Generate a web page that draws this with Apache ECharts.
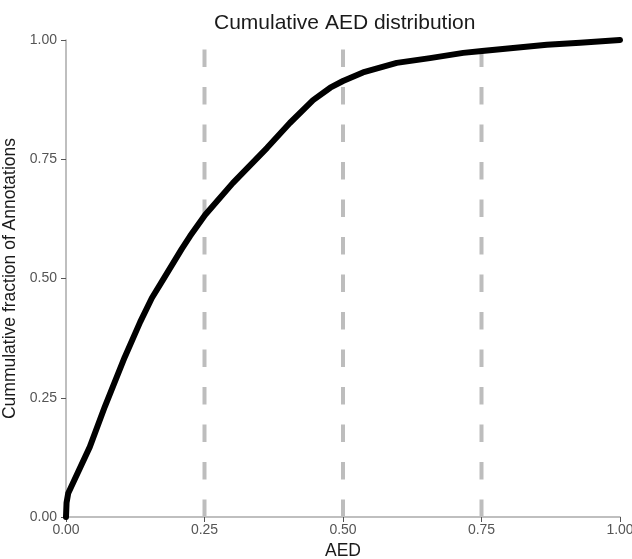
<!DOCTYPE html>
<html>
<head>
<meta charset="utf-8">
<script src="https://cdn.jsdelivr.net/npm/echarts@6/dist/echarts.min.js"></script>
<style>
html,body{margin:0;padding:0;background:#fff;}
#chart{width:632px;height:559px;}
</style>
</head>
<body>
<div id="chart"></div>
<script>
// AED values (x) and cumulative fraction (y)
var aedValues = [0, 0.001, 0.004, 0.043, 0.070, 0.106, 0.134, 0.155, 0.175, 0.209, 0.224, 0.251, 0.301, 0.363, 0.404, 0.446, 0.477, 0.500, 0.536, 0.597, 0.657, 0.717, 0.751, 0.807, 0.868, 0.928, 1.0];
var cumFraction = [0, 0.03, 0.05, 0.147, 0.231, 0.335, 0.409, 0.459, 0.497, 0.562, 0.589, 0.633, 0.700, 0.774, 0.826, 0.874, 0.900, 0.914, 0.932, 0.952, 0.962, 0.973, 0.977, 0.983, 0.990, 0.994, 1.0];
var refLines = [0.25, 0.5, 0.75];
var tickValues = [0, 0.25, 0.5, 0.75, 1.0];

var curve = aedValues.map(function (x, i) { return [x, cumFraction[i]]; });

var series = [];
refLines.forEach(function (v) {
  series.push({
    type: 'line',
    data: [[v, 0], [v, 1]],
    symbol: 'none',
    silent: true,
    z: 1,
    lineStyle: { color: '#bdbdbd', width: 4, type: [17.5, 20] }
  });
});
series.push({
  type: 'line',
  data: curve,
  symbol: 'none',
  z: 3,
  lineStyle: { color: '#000', width: 6, cap: 'round', join: 'round' }
});

var FONT = 'Liberation Sans, Arial, sans-serif';
var axisCommon = {
  min: tickValues[0], max: tickValues[tickValues.length - 1], interval: 0.25,
  axisLine: { show: true, lineStyle: { color: '#aaaaaa', width: 1.5 } },
  axisTick: { show: true, length: 5, lineStyle: { color: '#555', width: 1 } },
  axisLabel: {
    color: '#555', fontSize: 14, fontFamily: FONT,
    formatter: function (v) { return v.toFixed(2); }
  },
  splitLine: { show: false }
};

var chart = echarts.init(document.getElementById('chart'), null, { renderer: 'canvas' });
chart.setOption({
  animation: false,
  backgroundColor: '#fff',
  title: {
    text: 'Cumulative AED distribution',
    left: 209, top: 8,
    textStyle: { color: '#1a1a1a', fontSize: 21, fontWeight: 'normal', fontFamily: FONT }
  },
  grid: { left: 66, top: 40, right: 12, bottom: 42, containLabel: false, outerBoundsMode: 'none' },
  xAxis: Object.assign({}, axisCommon, {
    type: 'value',
    name: 'AED', nameLocation: 'middle', nameGap: 21,
    nameTextStyle: { color: '#1a1a1a', fontSize: 17.5, fontFamily: FONT },
    axisLabel: Object.assign({}, axisCommon.axisLabel, { margin: 6 })
  }),
  yAxis: Object.assign({}, axisCommon, {
    type: 'value',
    name: 'Cummulative fraction of Annotations', nameLocation: 'middle', nameGap: 47,
    nameTextStyle: { color: '#1a1a1a', fontSize: 17.5, fontFamily: FONT },
    axisLabel: Object.assign({}, axisCommon.axisLabel, { margin: 9 })
  }),
  series: series
});
</script>
</body>
</html>
